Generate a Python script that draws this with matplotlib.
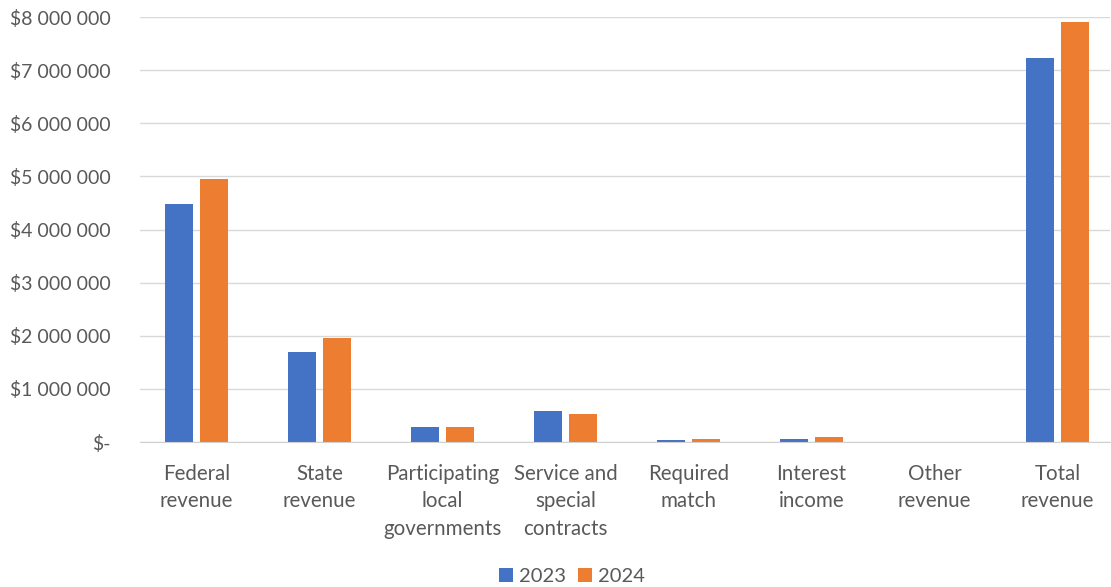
import matplotlib.pyplot as plt
import numpy as np
from matplotlib.ticker import FuncFormatter

categories = ["Federal\nrevenue", "State\nrevenue", "Participating\nlocal\ngovernments",
              "Service and\nspecial\ncontracts", "Required\nmatch", "Interest\nincome",
              "Other\nrevenue", "Total\nrevenue"]
rev_2023 = [4480000, 1700000, 280000, 580000, 40000, 60000, 0, 7230000]
rev_2024 = [4950000, 1960000, 280000, 530000, 60000, 90000, 0, 7910000]

plt.rcParams["font.family"] = ["Lato", "DejaVu Sans"]

fig = plt.figure(figsize=(11.11, 5.87), dpi=100)
ax = fig.add_axes([0.126, 0.247, 0.873, 0.724])

x = np.arange(len(categories))
w = 0.228
ax.bar(x - 0.142, rev_2023, w, color="#4472C4", label="2023")
ax.bar(x + 0.142, rev_2024, w, color="#ED7D31", label="2024")

ax.set_xlim(-0.459, 7.427)
ax.set_ylim(0, 8000000)
ax.set_yticks(np.arange(0, 8000001, 1000000))


def money(v, pos):
    if v == 0:
        return "$-"
    return "$" + f"{int(v):,}".replace(",", " ")


ax.yaxis.set_major_formatter(FuncFormatter(money))
ax.set_xticks(x)
ax.set_xticklabels(categories, linespacing=1.45)
ax.tick_params(axis="both", length=0, labelcolor="#595959")
ax.tick_params(axis="y", pad=21, labelsize=14)
ax.tick_params(axis="x", pad=16, labelsize=14.8)

ax.grid(axis="y", color="#d9d9d9", linewidth=1)
ax.set_axisbelow(True)
for s in ["top", "right", "left"]:
    ax.spines[s].set_visible(False)
ax.spines["bottom"].set_color("#d0d0d0")

fig.legend(loc="lower center", bbox_to_anchor=(0.515, -0.027), ncol=2, frameon=False,
           fontsize=14.5, labelcolor="#595959", handlelength=0.7, handleheight=0.7,
           handletextpad=0.3, columnspacing=0.6)

fig.savefig("out.png", dpi=100)
